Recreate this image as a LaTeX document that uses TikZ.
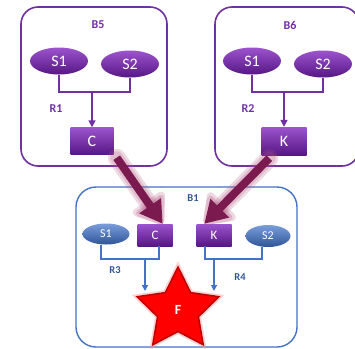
\documentclass[tikz,border=0pt]{standalone}
\usepackage{fontspec}
\setmainfont{Carlito}
\usetikzlibrary{arrows.meta,positioning,shapes.geometric}
\definecolor{vio}{HTML}{7030A0}
\definecolor{viotop}{HTML}{9C54CE}
\definecolor{viobot}{HTML}{561684}
\definecolor{blu}{HTML}{4472C4}
\definecolor{bludark}{HTML}{2F5597}
\definecolor{blutop}{HTML}{7A9EDC}
\definecolor{wine}{HTML}{7A1A4E}
\definecolor{halo}{HTML}{B0557F}

\begin{document}
\begin{tikzpicture}[x=1pt,y=-1pt,>=Latex,
  frame/.style={draw=vio,line width=1.6pt,rounded corners=17pt,inner sep=0pt},
  bframe/.style={draw=blu,line width=1.4pt,rounded corners=20pt,inner sep=0pt},
  sv/.style={ellipse,inner sep=0pt,minimum width=58pt,minimum height=27pt,top color=viotop,bottom color=viobot,text=white,font=\fontsize{16}{16}\selectfont},
  sb/.style={ellipse,inner sep=0pt,minimum width=47pt,minimum height=21pt,top color=blutop,bottom color=bludark,text=white,font=\fontsize{12}{12}\selectfont},
  pbox/.style={rectangle,inner sep=0pt,top color=viotop,bottom color=viobot,text=white},
  lblv/.style={text=vio,font=\fontsize{12}{12}\selectfont\bfseries},
  lblb/.style={text=bludark,font=\fontsize{10.5}{10.5}\selectfont\bfseries},
  wire/.style={vio,line width=1.6pt},
  bwire/.style={blu,line width=1.3pt},
  fat/.style={wine,line width=8pt,-{Triangle[width=25pt,length=22pt]}},
  glow/.style={halo,opacity=0.22,line width=#1,line cap=round,line join=round,-{Triangle[width=25pt+#1,length=22pt+#1/2,round]}},
  burst/.style={star,star points=5,star point ratio=2,minimum size=86pt,inner sep=0pt,fill=red,draw={rgb,255:red,190;green,0;blue,0},line width=1.5pt,text=white,font=\fontsize{14}{14}\selectfont\bfseries}]
\useasboundingbox (0,0) rectangle (355,348);

\node[frame,minimum width=146pt,minimum height=159pt] (b5) at (94,86.5) {};
\node[frame,minimum width=144pt,minimum height=159pt] (b6) at (287,86.5) {};
\node[bframe,minimum width=221pt,minimum height=160pt] (b1) at (186.5,267) {};

\node[lblv] (lb5) at (98,25) {B5};
\node[lblv] (lb6) at (290,25) {B6};
\node[lblb] (lb1) at (193,198) {B1};
\node[lblv] (r1) at (56,109) {R1};
\node[lblv] (r2) at (248,109) {R2};
\node[lblb] (r3) at (115,270) {R3};
\node[lblb] (r4) at (240,277) {R4};

\node[sv] (s15) at (59,61) {S1};
\node[sv] (s25) at (130,64) {S2};
\node[pbox,minimum width=43pt,minimum height=27pt,font=\fontsize{16}{16}\selectfont] (c5) at (92,141) {C};
\node[sv] (s16) at (252,61) {S1};
\node[sv] (s26) at (323,64) {S2};
\node[pbox,minimum width=45pt,minimum height=28pt,font=\fontsize{16}{16}\selectfont] (k6) at (284,141) {K};

\node[sb] (s11) at (106,234) {S1};
\node[pbox,minimum width=35pt,minimum height=22pt,font=\fontsize{13}{13}\selectfont] (c1) at (155,235) {C};
\node[pbox,minimum width=35pt,minimum height=22pt,font=\fontsize{13}{13}\selectfont] (k1) at (214,235) {K};
\node[sb,minimum width=45pt,minimum height=22pt] (s21) at (268,236) {S2};
\node[burst,preaction={draw=red!45,line width=5pt,opacity=0.4}] (f) at (178,310) {F};

\coordinate (j5) at (92,92);
\coordinate (j6) at (284,92);
\coordinate (j3) at (145,259);
\coordinate (j4) at (214,259);
\coordinate (e3) at (145,291);
\coordinate (e4) at (214,291);

\draw[wire] (s15.south) |- (j5) -| (s25.south);
\draw[wire,-{Triangle[width=7pt,length=7pt]}] (j5) -- (c5);
\draw[wire] (s16.south) |- (j6) -| (s26.south);
\draw[wire,-{Triangle[width=7pt,length=7pt]}] (j6) -- (k6);

\draw[bwire] ([xshift=-5pt]s11.south) |- (j3) -| ([xshift=4pt]c1.south);
\draw[bwire,-{Triangle[width=6pt,length=6pt]}] (j3) -- (e3);
\draw[bwire] ([xshift=-9pt]k1.south) |- (j4) -| ([xshift=-6pt]s21.south);
\draw[bwire,-{Triangle[width=6pt,length=6pt]}] (j4) -- (e4);

\foreach \w in {18pt,13pt} {
  \draw[glow=\w] ([shift={(3pt,-3pt)}]c5.south east) -- ([xshift=-10pt]c1.north east);
  \draw[glow=\w] ([shift={(8pt,-3pt)}]k6.south west) -- ([xshift=8pt]k1.north west);
}
\draw[fat] ([shift={(3pt,-3pt)}]c5.south east) -- ([xshift=-10pt]c1.north east);
\draw[fat] ([shift={(8pt,-3pt)}]k6.south west) -- ([xshift=8pt]k1.north west);
\end{tikzpicture}
\end{document}
